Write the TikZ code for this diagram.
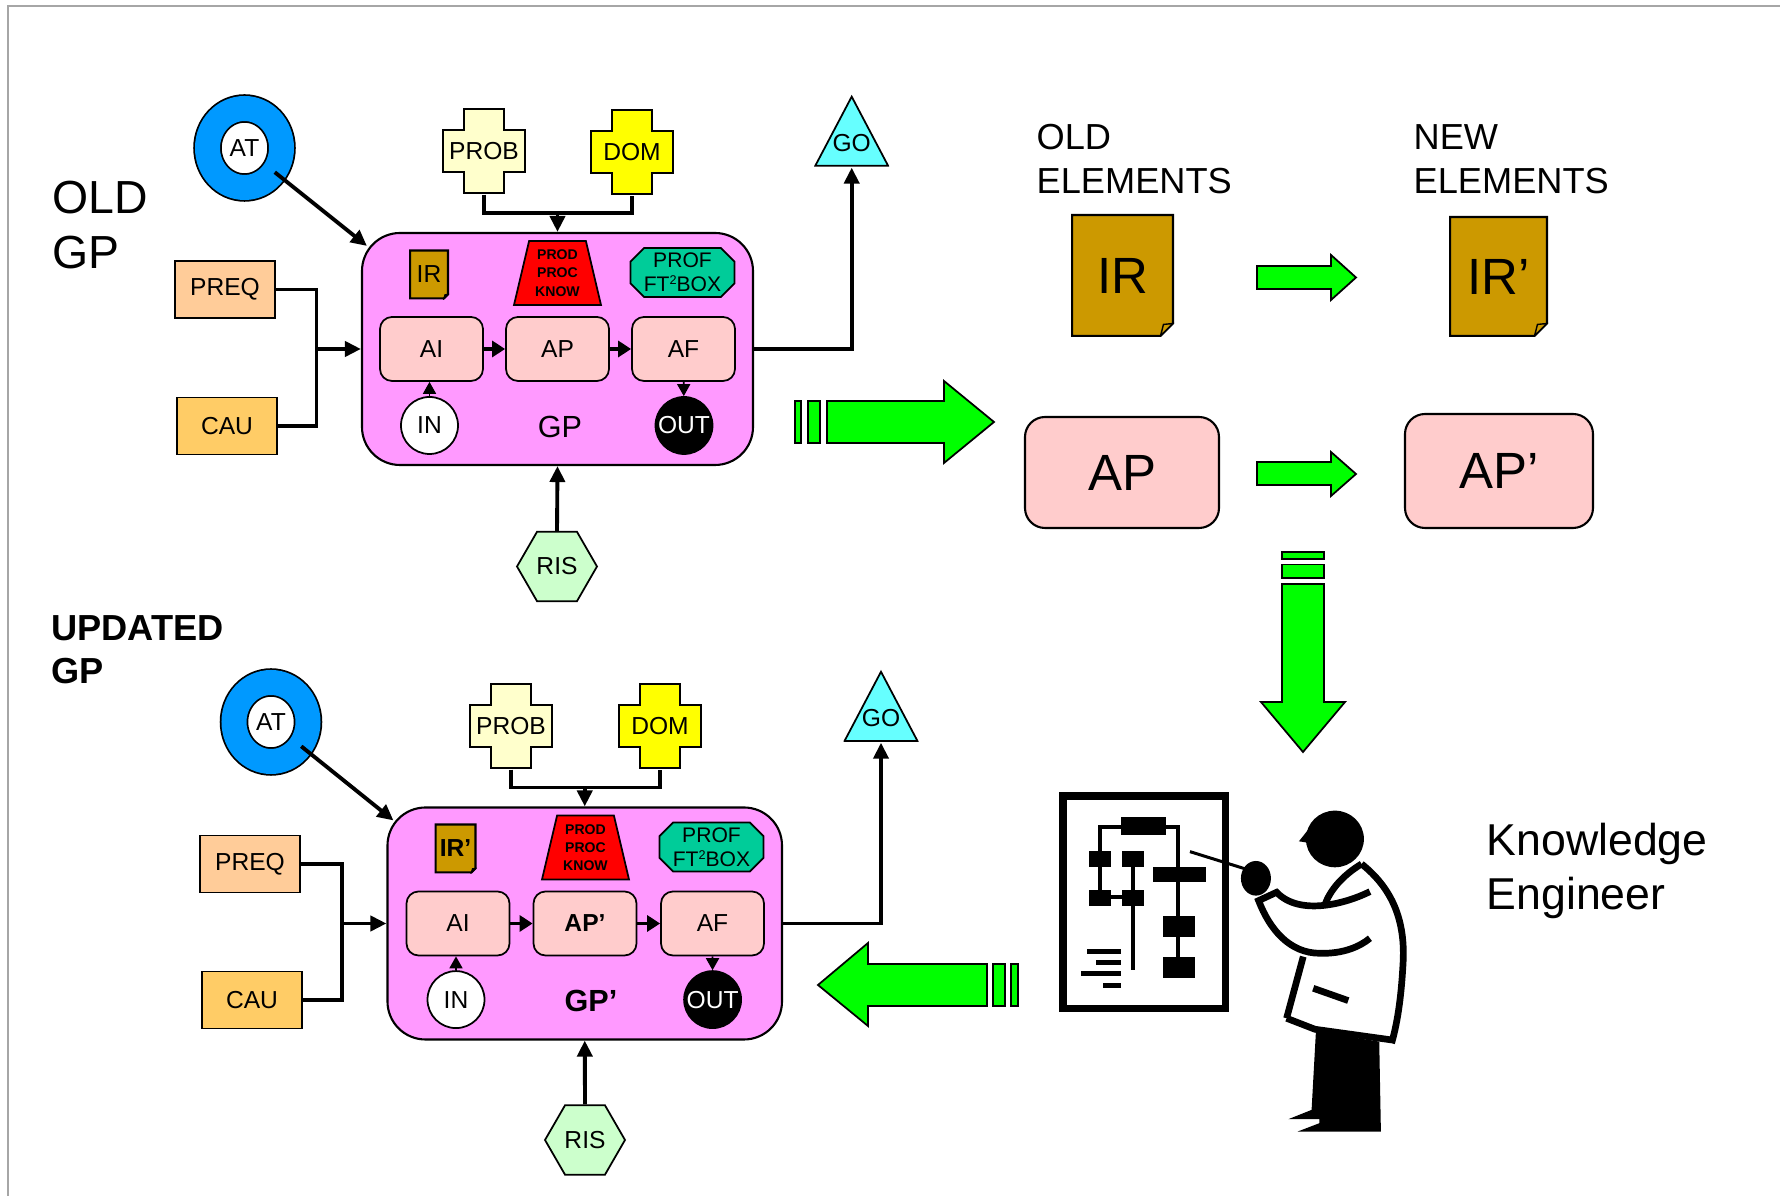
\documentclass[tikz,border=0pt]{standalone}
\usepackage{fontspec}
\setmainfont{Liberation Sans}
\usetikzlibrary{arrows.meta,positioning,shapes.geometric}

\definecolor{atblue}{HTML}{0099FF}
\definecolor{probyellow}{HTML}{FFFFCC}
\definecolor{domyellow}{HTML}{FFFF00}
\definecolor{gocyan}{HTML}{66FFFF}
\definecolor{gpmagenta}{HTML}{FF99FF}
\definecolor{irgold}{HTML}{CC9900}
\definecolor{profteal}{HTML}{00CC99}
\definecolor{actpink}{HTML}{FFCCCC}
\definecolor{risgreen}{HTML}{CCFFCC}
\definecolor{preqorange}{HTML}{FFCC99}
\definecolor{cauorange}{HTML}{FFCC66}
\definecolor{flowgreen}{HTML}{00FF00}

\newcommand{\sqtwo}{\raisebox{0.32em}{\fontsize{3.6}{4}\selectfont 2}}

\begin{document}
\begin{tikzpicture}[
  lbl/.style={font=\fontsize{7}{8.4}\selectfont},
  wire/.style={line width=1.1pt},
  conn/.style={line width=1.1pt, -{Triangle[length=1.6mm,width=1.5mm]}},
  link/.style={line width=0.9pt, -{Triangle[length=1.3mm,width=1.6mm]}},
  feed/.style={line width=0.5pt, -{Triangle[length=1.2mm,width=1.3mm]}},
  gpbox/.style={draw, fill=gpmagenta, rounded corners=0.38cm, line width=0.6pt, minimum height=2.32cm, inner sep=0pt},
  act/.style={draw, fill=actpink, rounded corners=0.12cm, line width=0.5pt, minimum width=1.03cm, minimum height=0.64cm, inner sep=0pt, lbl},
  donut/.style={ellipse, draw, fill=white, double=atblue, double distance=0.25cm, line width=0.5pt, minimum width=0.74cm, minimum height=0.79cm, inner sep=0pt, lbl},
  plus/.style={minimum width=0.84cm, minimum height=0.86cm, inner sep=0pt, lbl,
    path picture={\draw[line width=0.5pt, fill=#1]
      ([shift={(-0.2,0.42)}]path picture bounding box.center)
      -- ++(0.4,0) -- ++(0,-0.21) -- ++(0.21,0) -- ++(0,-0.42) -- ++(-0.21,0)
      -- ++(0,-0.21) -- ++(-0.4,0) -- ++(0,0.21) -- ++(-0.21,0) -- ++(0,0.42)
      -- ++(0.21,0) -- cycle;}},
  goal/.style={minimum width=0.75cm, minimum height=0.72cm, inner sep=0pt, lbl, text height=0.41cm, text depth=0pt,
    path picture={\draw[line width=0.5pt, fill=gocyan]
      ([shift={(0.3pt,0.3pt)}]path picture bounding box.south west)
      -- ([shift={(-0.3pt,0.3pt)}]path picture bounding box.south east)
      -- ([yshift=-0.5pt]path picture bounding box.north) -- cycle;}},
  risk/.style={regular polygon, regular polygon sides=6, draw, fill=risgreen, line width=0.5pt, minimum size=0.8cm, inner sep=0pt, lbl},
  doc/.style={inner sep=0pt,
    path picture={\draw[line width=0.6pt, fill=irgold]
      ([shift={(0.3pt,-0.3pt)}]path picture bounding box.north west)
      -- ([shift={(-0.3pt,-0.3pt)}]path picture bounding box.north east)
      -- ([shift={(-0.3pt,#1)}]path picture bounding box.south east)
      -- ([shift={(-#1,0.3pt)}]path picture bounding box.south east)
      -- ([shift={(0.3pt,0.3pt)}]path picture bounding box.south west) -- cycle;
      \draw[line width=0.4pt, fill=irgold]
      ([shift={(-0.3pt,#1)}]path picture bounding box.south east)
      -- ([shift={(-0.78*#1,0.93*#1)}]path picture bounding box.south east)
      -- ([shift={(-#1,0.3pt)}]path picture bounding box.south east) -- cycle;}},
  know/.style={trapezium, trapezium left angle=72, trapezium right angle=72, trapezium stretches body, draw, fill=red, line width=0.5pt, minimum height=0.64cm, minimum width=0.87cm, inner sep=0pt, align=center, font=\fontsize{4}{5.2}\selectfont\bfseries},
  prof/.style={minimum width=1.06cm, minimum height=0.51cm, inner sep=0pt, align=center, font=\fontsize{6}{6.7}\selectfont,
    path picture={\draw[line width=0.5pt, fill=profteal]
      ([shift={(0.145,-0.3pt)}]path picture bounding box.north west)
      -- ([shift={(-0.145,-0.3pt)}]path picture bounding box.north east)
      -- ([shift={(-0.3pt,-0.145)}]path picture bounding box.north east)
      -- ([shift={(-0.3pt,0.145)}]path picture bounding box.south east)
      -- ([shift={(-0.145,0.3pt)}]path picture bounding box.south east)
      -- ([shift={(0.145,0.3pt)}]path picture bounding box.south west)
      -- ([shift={(0.3pt,0.145)}]path picture bounding box.south west)
      -- ([shift={(0.3pt,-0.145)}]path picture bounding box.north west) -- cycle;}},
  port/.style={circle, draw, line width=0.5pt, minimum size=0.57cm, inner sep=0pt, lbl},
  cond/.style={draw, line width=0.5pt, minimum width=1.0cm, minimum height=0.57cm, inner sep=0pt, lbl},
  elem/.style={draw, fill=actpink, rounded corners=0.2cm, line width=0.6pt, inner sep=0pt, font=\fontsize{14.5}{17}\selectfont},
  greenarrow/.style={draw, fill=flowgreen, line width=0.5pt},
  coat/.style={line width=0.67mm},
]
\useasboundingbox (0,0) rectangle (17.8,-11.96);
\draw[gray!70, line width=0.2mm] (0.08,-11.96) -- (0.08,-0.065) -- (17.8,-0.065);

% ---------- old process
\node[anchor=north west, inner sep=0pt, align=left, font=\fontsize{13.2}{15.8}\selectfont] (oldgp) at (0.517,-1.80) {OLD\\GP};

\node[gpbox, minimum width=3.91cm] (gp) at (5.575,-3.49) {};
\node[doc=0.05cm, minimum width=0.40cm, minimum height=0.50cm, lbl] (ir) at (4.29,-2.745) {IR};
\node[know] (pk) at (5.575,-2.73) {PROD\\PROC\\KNOW};
\node[prof] (prof) at (6.825,-2.725) {PROF\\FT\sqtwo BOX};
\node[act] (ai) at (4.315,-3.49) {AI};
\node[act] (ap) at (5.575,-3.49) {AP};
\node[act] (af) at (6.835,-3.49) {AF};
\node[port, fill=white] (in) at (4.295,-4.255) {IN};
\node[port, fill=black, text=white] (out) at (6.84,-4.255) {OUT};
\node[font=\fontsize{8.7}{10}\selectfont] (gplabel) at (5.60,-4.27) {GP};

\node[donut] (at) at (2.445,-1.48) {AT};
\node[plus=probyellow] (prob) at (4.84,-1.51) {PROB};
\node[plus=domyellow] (dom) at (6.32,-1.52) {DOM};
\node[goal] (go) at (8.517,-1.309) {GO};
\node[risk] (ris) at (5.57,-5.665) {RIS};
\node[cond, fill=preqorange] (preq) at (2.25,-2.895) {PREQ};
\node[cond, fill=cauorange] (cau) at (2.27,-4.26) {CAU};

\coordinate (jt) at ([yshift=0.19cm]gp.north);
\coordinate (jl) at ([xshift=-0.445cm]gp.west);
\draw[conn] (at) -- ([shift={(0.06,-0.14)}]gp.north west);
\draw[wire] (prob.south) |- (jt) -| (dom.south);
\draw[conn] (jt) -- (gp.north);
\draw[wire] (preq.east) -| (jl) |- (cau.east);
\draw[conn] (jl) -- (gp.west);
\draw[conn] (gp.east) -| (go.south);
\draw[conn] (ris.north) -- (gp.south);
\draw[link] (ai) -- (ap);
\draw[link] (ap) -- (af);
\draw[feed] (in.north) -- (in.north |- ai.south);
\draw[feed] (af) -- (out);

% ---------- updated process
\node[anchor=north west, inner sep=0pt, align=left, font=\fontsize{10.3}{12.2}\selectfont\bfseries] (updgp) at (0.505,-6.15) {UPDATED\\GP};

\node[gpbox, minimum width=3.945cm] (gp2) at (5.8475,-9.235) {};
\node[doc=0.05cm, minimum width=0.42cm, minimum height=0.50cm, font=\fontsize{7}{8.4}\selectfont\bfseries] (ir2) at (4.555,-8.485) {IR'};
\node[know] (pk2) at (5.855,-8.475) {PROD\\PROC\\KNOW};
\node[prof] (prof2) at (7.115,-8.47) {PROF\\FT\sqtwo BOX};
\node[act] (ai2) at (4.58,-9.235) {AI};
\node[act, font=\fontsize{7}{8.4}\selectfont\bfseries] (ap2) at (5.85,-9.235) {AP'};
\node[act] (af2) at (7.125,-9.235) {AF};
\node[port, fill=white] (in2) at (4.56,-9.996) {IN};
\node[port, fill=black, text=white] (out2) at (7.126,-9.996) {OUT};
\node[font=\fontsize{8.7}{10}\selectfont\bfseries] (gplabel2) at (5.91,-10.01) {GP'};

\node[donut] (at2) at (2.71,-7.22) {AT};
\node[plus=probyellow] (prob2) at (5.11,-7.26) {PROB};
\node[plus=domyellow] (dom2) at (6.60,-7.26) {DOM};
\node[goal] (go2) at (8.81,-7.06) {GO};
\node[risk] (ris2) at (5.85,-11.40) {RIS};
\node[cond, fill=preqorange] (preq2) at (2.50,-8.64) {PREQ};
\node[cond, fill=cauorange] (cau2) at (2.52,-10.00) {CAU};

\coordinate (jt2) at ([yshift=0.19cm]gp2.north);
\coordinate (jl2) at ([xshift=-0.445cm]gp2.west);
\draw[conn] (at2) -- ([shift={(0.07,-0.14)}]gp2.north west);
\draw[wire] (prob2.south) |- (jt2) -| (dom2.south);
\draw[conn] (jt2) -- (gp2.north);
\draw[wire] (preq2.east) -| (jl2) |- (cau2.east);
\draw[conn] (jl2) -- (gp2.west);
\draw[conn] (gp2.east) -| (go2.south);
\draw[conn] (ris2.north) -- (gp2.south);
\draw[link] (ai2) -- (ap2);
\draw[link] (ap2) -- (af2);
\draw[feed] (in2.north) -- (in2.north |- ai2.south);
\draw[feed] (af2) -- (out2);

% ---------- old / new elements
\node[anchor=north west, inner sep=0pt, align=left, font=\fontsize{10.3}{12.5}\selectfont] (oldel) at (10.36,-1.24) {OLD\\ELEMENTS};
\node[anchor=north west, inner sep=0pt, align=left, font=\fontsize{10.3}{12.5}\selectfont] (newel) at (14.13,-1.24) {NEW\\ELEMENTS};
\node[doc=0.135cm, minimum width=1.03cm, minimum height=1.23cm, font=\fontsize{14.5}{17}\selectfont] (irold) at (11.225,-2.755) {IR};
\node[doc=0.135cm, minimum width=0.99cm, minimum height=1.21cm, font=\fontsize{14.5}{17}\selectfont] (irnew) at (14.985,-2.765) {IR'};
\node[elem, minimum width=1.94cm, minimum height=1.11cm] (apold) at (11.22,-4.725) {AP};
\node[elem, minimum width=1.88cm, minimum height=1.14cm] (apnew) at (14.99,-4.71) {AP'};

% block arrows
\draw[greenarrow] (12.57,-2.66) -- (13.31,-2.66) -- (13.31,-2.55) -- (13.56,-2.775)
  -- (13.31,-3.00) -- (13.31,-2.89) -- (12.57,-2.89) -- cycle;
\draw[greenarrow] (12.57,-4.62) -- (13.31,-4.62) -- (13.31,-4.52) -- (13.56,-4.74)
  -- (13.31,-4.96) -- (13.31,-4.85) -- (12.57,-4.85) -- cycle;
\draw[greenarrow] (7.95,-4.01) rectangle (8.01,-4.43);
\draw[greenarrow] (8.08,-4.01) rectangle (8.20,-4.43);
\draw[greenarrow] (8.27,-4.01) -- (9.44,-4.01) -- (9.44,-3.81) -- (9.94,-4.22)
  -- (9.44,-4.63) -- (9.44,-4.43) -- (8.27,-4.43) -- cycle;
\draw[greenarrow] (12.82,-5.52) rectangle (13.24,-5.59);
\draw[greenarrow] (12.82,-5.645) rectangle (13.24,-5.78);
\draw[greenarrow] (12.82,-5.84) -- (13.24,-5.84) -- (13.24,-7.02) -- (13.45,-7.02)
  -- (13.03,-7.52) -- (12.61,-7.02) -- (12.82,-7.02) -- cycle;
\draw[greenarrow] (10.11,-9.64) rectangle (10.18,-10.06);
\draw[greenarrow] (9.93,-9.64) rectangle (10.05,-10.06);
\draw[greenarrow] (9.87,-9.64) -- (9.87,-10.06) -- (8.68,-10.06) -- (8.68,-10.26)
  -- (8.18,-9.85) -- (8.68,-9.43) -- (8.68,-9.64) -- cycle;

% ---------- knowledge engineer at the board
\node[anchor=north west, inner sep=0pt, align=left, font=\fontsize{12.7}{15.4}\selectfont] (ke) at (14.86,-8.22) {Knowledge\\Engineer};

\begin{scope}[shift={(10,-7.6)}, x=0.03333mm, y=-0.03333mm]
  % board
  \draw[line width=0.733mm] (189,108) rectangle (677,745);
  \draw[line width=0.4mm] (363,200) -- (300,200) -- (300,413);
  \draw[line width=0.4mm] (498,200) -- (535,200) -- (535,625);
  \draw[line width=0.4mm] (333,410) -- (367,410);
  \draw[line width=0.4mm] (400,297) -- (400,630);
  \fill (363,172) rectangle (498,226);
  \fill (267,273) rectangle (333,320);
  \fill (367,273) rectangle (433,320);
  \fill (267,390) rectangle (333,437);
  \fill (367,390) rectangle (433,437);
  \fill (460,322) rectangle (617,366);
  \fill (488,468) rectangle (585,532);
  \fill (488,592) rectangle (585,655);
  \fill (262,568) rectangle (362,583);
  \fill (288,600) rectangle (362,615);
  \fill (243,633) rectangle (362,648);
  \fill (310,668) rectangle (362,683);
  % pointer and hand
  \draw[line width=0.3mm] (570,275) -- (740,328);
  \fill (768,355) ellipse [x radius=45, y radius=52];
  % head
  \fill (1005,237) ellipse [x radius=87, y radius=85];
  \fill (940,190) -- (897,244) -- (935,250) -- cycle;
  % legs
  \fill (948,815) -- (1138,845) -- (1143,1115) -- (893,1115) -- (958,1090)
    -- (958,1078) -- (865,1078) -- (935,1050) -- cycle;
  % coat
  \draw[coat] (1085,312) .. controls (1170,380) and (1215,470) .. (1210,600)
    .. controls (1205,700) and (1195,780) .. (1175,850);
  \draw[coat] (860,775) -- (945,808) -- (1175,840);
  \draw[coat] (910,590) -- (860,775);
  \draw[coat] (975,435) .. controls (990,390) and (1030,345) .. (1085,312);
  \draw[coat] (1110,395) .. controls (1040,430) and (900,470) .. (830,397) -- (776,422)
    .. controls (810,510) and (870,580) .. (960,580) .. controls (1030,582) and (1080,560) .. (1110,535);
  \draw[coat] (940,685) -- (1045,722);
\end{scope}
\end{tikzpicture}
\end{document}
